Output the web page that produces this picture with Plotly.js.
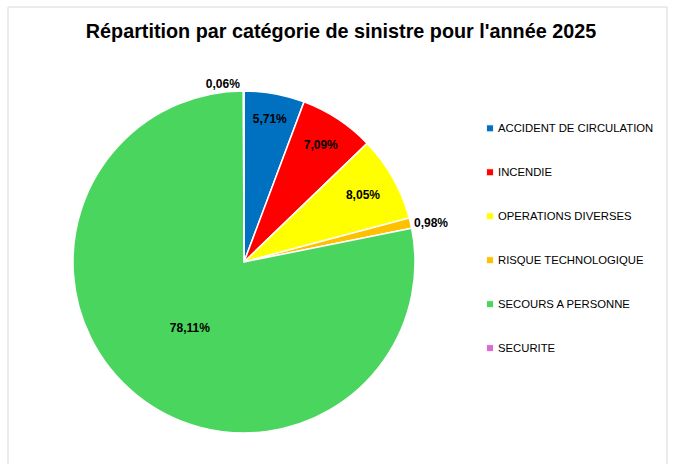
<!DOCTYPE html>
<html>
<head>
<meta charset="utf-8">
<script src="https://cdn.plot.ly/plotly-3.0.1.min.js"></script>
<style>
html,body{margin:0;padding:0;background:#fff;}
#chart{width:674px;height:464px;}
#chart .legendpoints path{transform:translate(32px,0) scale(0.58);}
</style>
</head>
<body>
<div id="chart"></div>
<script>
const categories = ["ACCIDENT DE CIRCULATION", "INCENDIE", "OPERATIONS DIVERSES", "RISQUE TECHNOLOGIQUE", "SECOURS A PERSONNE", "SECURITE"];
const percentages = [5.71, 7.09, 8.05, 0.98, 78.11, 0.06];
const colors = ["#0070C0", "#FF0000", "#FFFF00", "#FFC000", "#4AD55F", "#DD6BD0"];
const labelPositions = ["inside", "inside", "inside", "outside", "inside", "outside"];

const W = 674, H = 464;
const cx = 244, cy = 262, R = 171;

const trace = {
  type: "pie",
  labels: categories.map(c => "<span style='font-size:11.3px'>" + c + "</span><br> <br> "),
  values: percentages,
  sort: false,
  direction: "clockwise",
  rotation: 0,
  marker: {colors: colors, line: {color: "#FFFFFF", width: 1.5}},
  texttemplate: "%{value:.2f}%",
  textposition: labelPositions,
  insidetextorientation: "horizontal",
  textfont: {family: "Liberation Sans, Arial, sans-serif", size: 12, color: "#000000", weight: "bold"},
  outsidetextfont: {family: "Liberation Sans, Arial, sans-serif", size: 12, color: "#000000", weight: "bold"},
  automargin: false,
  hoverinfo: "percent",
  domain: {x: [(cx - R) / W, (cx + R) / W], y: [(H - cy - R) / H, (H - cy + R) / H]}
};

const layout = {
  width: W, height: H,
  margin: {l: 0, r: 0, t: 0, b: 0},
  paper_bgcolor: "#FFFFFF",
  separators: ", ",
  title: {
    text: "<b>Répartition par catégorie de sinistre pour l'année 2025</b>",
    font: {family: "Liberation Sans, Arial, sans-serif", size: 19.8, color: "#000000"},
    x: 341 / W, xanchor: "center", xref: "paper",
    y: 1 - 31 / H, yanchor: "middle", yref: "paper"
  },
  showlegend: true,
  legend: {
    x: 458 / W, xanchor: "left",
    y: 1 - 115 / H, yanchor: "top",
    valign: "top",
    font: {family: "Liberation Sans, Arial, sans-serif", size: 10.5, color: "#000000"},
    bgcolor: "rgba(0,0,0,0)"
  },
  shapes: [{
    type: "rect", xref: "paper", yref: "paper",
    x0: 8 / W, x1: 667 / W, y0: -0.05, y1: 1 - 7 / H,
    line: {color: "#D9D9D9", width: 1}, fillcolor: "rgba(0,0,0,0)", layer: "below"
  }]
};

Plotly.newPlot("chart", [trace], layout, {displayModeBar: false, staticPlot: true});
</script>
</body>
</html>
